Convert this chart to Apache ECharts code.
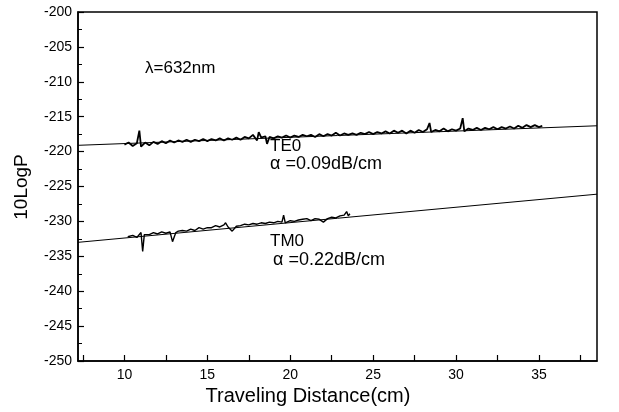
<!DOCTYPE html>
<html><head><meta charset="utf-8">
<script src="https://cdn.jsdelivr.net/npm/echarts@6/dist/echarts.min.js"></script>
<style>html,body{margin:0;padding:0;background:#fff}#c{width:619px;height:412px}</style>
</head><body><div id="c"></div>
<script>
// x tick labels
const xTickLabels = [10, 15, 20, 25, 30, 35];
const xMinorTicks = [7.5, 10, 12.5, 15, 17.5, 20, 22.5, 25, 27.5, 30, 32.5, 35, 37.5];
// TE0 measured trace [distance cm, 10LogP]
const te0Data = [
[10.0,-219.0],[10.25,-218.7],[10.5,-219.2],[10.75,-218.8],[10.9,-217.0],[11.0,-219.3],[11.25,-218.7],[11.5,-219.1],[11.75,-218.6],
[12.0,-218.9],[12.25,-218.5],[12.5,-218.8],[12.75,-218.4],[13.0,-218.7],[13.25,-218.4],[13.5,-218.6],[13.75,-218.3],
[14.0,-218.6],[14.25,-218.3],[14.5,-218.5],[14.75,-218.2],[15.0,-218.5],[15.25,-218.2],[15.5,-218.4],[15.75,-218.1],
[16.0,-218.4],[16.25,-218.1],[16.5,-218.3],[16.75,-218.0],[17.0,-218.3],[17.25,-217.9],[17.5,-218.1],[17.75,-217.6],
[18.0,-218.4],[18.1,-217.2],[18.25,-218.0],[18.5,-217.8],[18.6,-218.9],[18.75,-217.9],[19.0,-218.1],[19.25,-217.8],
[19.5,-218.0],[19.75,-217.7],[20.0,-218.0],[20.25,-217.7],[20.5,-217.9],[20.75,-217.6],[21.0,-217.8],[21.25,-217.6],
[21.5,-217.9],[21.75,-217.5],[22.0,-217.8],[22.25,-217.5],[22.5,-217.7],[22.75,-217.3],[23.0,-217.7],[23.25,-217.4],
[23.5,-217.6],[23.75,-217.4],[24.0,-217.6],[24.25,-217.3],[24.5,-217.5],[24.75,-217.2],[25.0,-217.5],[25.25,-217.2],
[25.5,-217.4],[25.75,-217.1],[26.0,-217.4],[26.25,-217.0],[26.5,-217.3],[26.75,-217.0],[27.0,-217.4],[27.25,-217.0],
[27.5,-217.3],[27.75,-216.9],[28.0,-217.2],[28.25,-216.8],[28.4,-215.9],[28.5,-217.2],[28.75,-216.9],[29.0,-217.1],
[29.25,-216.7],[29.5,-217.1],[29.75,-216.8],[30.0,-217.0],[30.25,-216.7],[30.4,-215.2],[30.5,-217.1],[30.75,-216.7],
[31.0,-216.9],[31.25,-216.6],[31.5,-216.9],[31.75,-216.6],[32.0,-216.8],[32.25,-216.5],[32.5,-216.8],[32.75,-216.5],
[33.0,-216.7],[33.25,-216.4],[33.5,-216.7],[33.75,-216.3],[34.0,-216.6],[34.25,-216.2],[34.5,-216.5],[34.75,-216.2],
[35.0,-216.5],[35.2,-216.3]
];
// TM0 measured trace
const tm0Data = [
[10.2,-232.2],[10.5,-232.0],[10.75,-232.3],[11.0,-231.6],[11.1,-234.3],[11.2,-231.9],[11.5,-231.9],[11.75,-231.6],
[12.0,-231.8],[12.25,-231.5],[12.5,-231.7],[12.75,-231.5],[12.9,-232.9],[13.1,-231.6],[13.25,-231.4],[13.5,-231.3],
[13.75,-231.4],[14.0,-231.1],[14.25,-231.3],[14.5,-230.9],[14.75,-231.1],[15.0,-230.9],[15.25,-230.9],[15.5,-230.6],
[15.75,-230.8],[16.0,-230.5],[16.1,-230.2],[16.25,-230.8],[16.5,-231.4],[16.75,-230.7],[17.0,-230.6],[17.25,-230.4],
[17.5,-230.5],[17.75,-230.3],[18.0,-230.4],[18.25,-230.2],[18.5,-230.3],[18.75,-230.1],[19.0,-230.2],[19.25,-230.0],
[19.5,-230.1],[19.6,-229.1],[19.7,-230.2],[20.0,-229.9],[20.25,-230.0],[20.5,-229.8],[20.75,-229.7],[21.0,-229.6],
[21.25,-229.9],[21.5,-229.6],[21.75,-229.7],[22.0,-230.1],[22.25,-229.6],[22.5,-229.4],[22.75,-229.5],[23.0,-229.2],
[23.25,-229.1],[23.4,-228.6],[23.5,-229.2],[23.6,-228.9]
];
// linear fits (endpoints)
const te0Fit = [[7.2,-219.1],[38.5,-216.3]];
const tm0Fit = [[7.2,-233.0],[38.5,-226.1]];

const FONT = '"Liberation Sans",Arial,sans-serif';
const chart = echarts.init(document.getElementById('c'), null, {renderer:'canvas'});
chart.setOption({
  animation:false,
  backgroundColor:'#fff',
  grid:{left:78,right:22,top:12,bottom:51,show:true,borderColor:'#000',borderWidth:1.5,backgroundColor:'transparent'},
  xAxis:{type:'value',min:7.2,max:38.5,
    axisLine:{show:true,onZero:false,lineStyle:{color:'#000',width:1.5}},
    axisTick:{show:true,inside:true,length:6,customValues:xMinorTicks,lineStyle:{color:'#000',width:1.2}},
    axisLabel:{customValues:xTickLabels,color:'#000',fontFamily:FONT,fontSize:14,margin:7},
    splitLine:{show:false}},
  yAxis:{type:'value',min:-250,max:-200,interval:5,
    axisLine:{show:true,onZero:false,lineStyle:{color:'#000',width:1.5}},
    axisTick:{show:true,inside:true,length:6,lineStyle:{color:'#000',width:1.2}},
    minorTick:{show:true,splitNumber:2,length:4,lineStyle:{color:'#000',width:1}},
    axisLabel:{color:'#000',fontFamily:FONT,fontSize:14,margin:6},
    splitLine:{show:false}},
  graphic:[
    {type:'text',x:22,y:187,rotation:Math.PI/2,style:{text:'10LogP',font:'19px '+FONT,fill:'#000',textAlign:'center',textVerticalAlign:'middle'}},
    {type:'text',x:308,y:396,style:{text:'Traveling Distance(cm)',font:'20px '+FONT,fill:'#000',textAlign:'center',textVerticalAlign:'middle'}},
    {type:'text',x:145,y:68,style:{text:'λ=632nm',font:'17px '+FONT,fill:'#000',textVerticalAlign:'middle'}},
    {type:'text',x:270,y:146,style:{text:'TE0',font:'17px '+FONT,fill:'#000',textVerticalAlign:'middle'}},
    {type:'text',x:270,y:164,style:{text:'α =0.09dB/cm',font:'18px '+FONT,fill:'#000',textVerticalAlign:'middle'}},
    {type:'text',x:270,y:241,style:{text:'TM0',font:'17px '+FONT,fill:'#000',textVerticalAlign:'middle'}},
    {type:'text',x:273,y:260,style:{text:'α =0.22dB/cm',font:'18px '+FONT,fill:'#000',textVerticalAlign:'middle'}}
  ],
  series:[
    {type:'line',data:te0Fit,symbol:'none',lineStyle:{color:'#000',width:1},z:1},
    {type:'line',data:tm0Fit,symbol:'none',lineStyle:{color:'#000',width:1},z:1},
    {type:'line',data:te0Data,symbol:'none',lineStyle:{color:'#000',width:1.8},z:2},
    {type:'line',data:tm0Data,symbol:'none',lineStyle:{color:'#000',width:1.4},z:2}
  ]
});
</script></body></html>
